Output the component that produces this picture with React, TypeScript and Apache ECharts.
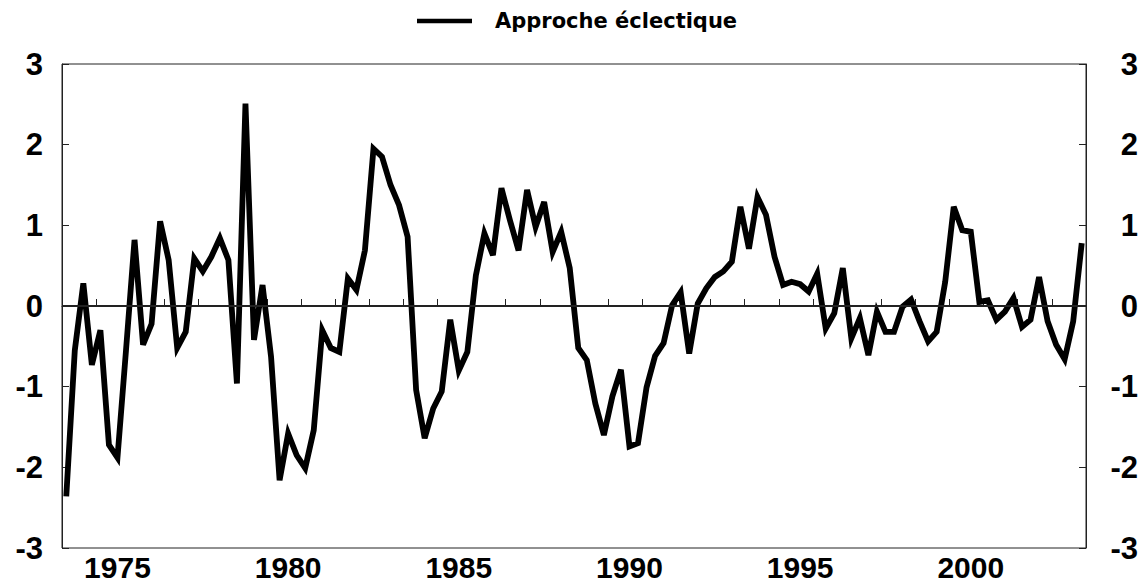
import React, { useEffect, useRef } from "react";
import * as echarts from "echarts";

// Quarterly categories from 1973Q3 to 2003Q2 (120 quarters)
const startYear = 1973;
const startQuarter = 3;
const quarterCount = 120;
const quarters: string[] = [];
for (let k = 0; k < quarterCount; k++) {
  const q0 = startQuarter - 1 + k;
  const y = startYear + Math.floor(q0 / 4);
  const q = (q0 % 4) + 1;
  quarters.push(`${y}Q${q}`);
}

const xLabelYears = ["1975", "1980", "1985", "1990", "1995", "2000"];
const yTicks = [-3, -2, -1, 0, 1, 2, 3];
const seriesName = "Approche éclectique";

const eclectique = [
  -2.36, -0.55, 0.28, -0.73, -0.3, -1.72, -1.88, -0.55, 0.82, -0.48,
  -0.22, 1.05, 0.57, -0.52, -0.32, 0.59, 0.43, 0.61, 0.84, 0.57,
  -0.96, 2.51, -0.42, 0.26, -0.63, -2.16, -1.58, -1.85, -2.01, -1.54,
  -0.3, -0.52, -0.57, 0.34, 0.2, 0.69, 1.95, 1.85, 1.5, 1.25,
  0.86, -1.04, -1.64, -1.27, -1.06, -0.17, -0.8, -0.57, 0.38, 0.9,
  0.63, 1.46, 1.06, 0.69, 1.44, 0.98, 1.29, 0.67, 0.92, 0.47,
  -0.52, -0.67, -1.21, -1.6, -1.12, -0.79, -1.74, -1.7, -1.01, -0.62,
  -0.46, 0.01, 0.17, -0.59, 0.03, 0.22, 0.36, 0.43, 0.55, 1.23,
  0.71, 1.35, 1.13, 0.61, 0.26, 0.3, 0.27, 0.18, 0.4, -0.28,
  -0.09, 0.47, -0.4, -0.15, -0.61, -0.07, -0.32, -0.32, -0.01, 0.08,
  -0.19, -0.44, -0.32, 0.3, 1.23, 0.94, 0.92, 0.05, 0.07, -0.17,
  -0.07, 0.1, -0.26, -0.17, 0.36, -0.19, -0.48, -0.66, -0.19, 0.78,
];

const FONT = "'Liberation Sans', Arial, Helvetica, sans-serif";

export default function App() {
  const ref = useRef<HTMLDivElement>(null);

  useEffect(() => {
    document.body.style.margin = "0";
    if (!ref.current) return;
    const chart = echarts.init(ref.current, undefined, { renderer: "svg" });

    const yAxisBase = {
      type: "value" as const,
      min: yTicks[0],
      max: yTicks[yTicks.length - 1],
      interval: 1,
      splitLine: { show: false },
      axisLine: { show: true, lineStyle: { color: "#222", width: 1 } },
      axisTick: { show: true, inside: true, length: 7, lineStyle: { color: "#222", width: 1 } },
    };

    chart.setOption({
      animation: false,
      backgroundColor: "#ffffff",
      legend: {
        left: 417,
        top: 9,
        padding: 0,
        itemWidth: 55,
        itemHeight: 4.5,
        icon: "rect",
        data: [{ name: seriesName, icon: "rect", itemStyle: { color: "#000" } }],
        textStyle: {
          fontFamily: "'DejaVu Sans', sans-serif",
          fontWeight: "bold",
          fontSize: 21,
          color: "#000",
          lineHeight: 24,
          padding: [0, 0, 0, 18],
        },
      },
      grid: {
        left: 62,
        right: 57,
        top: 64,
        bottom: 34,
        show: true,
        borderColor: "#222",
        borderWidth: 1,
        backgroundColor: "transparent",
      },
      xAxis: {
        type: "category",
        data: quarters,
        boundaryGap: true,
        axisLine: { show: true, lineStyle: { color: "#222", width: 1 } },
        axisTick: {
          show: true,
          inside: true,
          interval: 3,
          length: 7,
          lineStyle: { color: "#222", width: 1 },
        },
        axisLabel: {
          interval: (_index: number, value: string) =>
            value.endsWith("Q1") && xLabelYears.includes(value.slice(0, 4)),
          formatter: (value: string) => value.slice(0, 4),
          fontFamily: FONT,
          fontWeight: "bold",
          fontSize: 30,
          lineHeight: 30,
          color: "#000",
          margin: 4,
        },
        splitLine: { show: false },
      },
      yAxis: [
        {
          ...yAxisBase,
          position: "left",
          axisLabel: {
            fontFamily: FONT,
            fontWeight: "bold",
            fontSize: 31,
            color: "#000",
            margin: 19,
          },
        },
        {
          ...yAxisBase,
          position: "right",
          axisLabel: {
            fontFamily: FONT,
            fontWeight: "bold",
            fontSize: 31,
            color: "#000",
            align: "right",
            margin: 52,
          },
        },
      ],
      series: [
        {
          name: seriesName,
          type: "line",
          data: eclectique,
          yAxisIndex: 0,
          showSymbol: false,
          symbol: "none",
          lineStyle: { color: "#000", width: 5.8, join: "miter", miterLimit: 10 },
          itemStyle: { color: "#000" },
          markLine: {
            silent: true,
            symbol: "none",
            label: { show: false },
            lineStyle: { color: "#222", width: 2, type: "solid" },
            data: [{ yAxis: 0 }],
          },
          z: 3,
        },
      ],
    });

    return () => chart.dispose();
  }, []);

  return <div ref={ref} style={{ width: 1143, height: 582 }} />;
}
